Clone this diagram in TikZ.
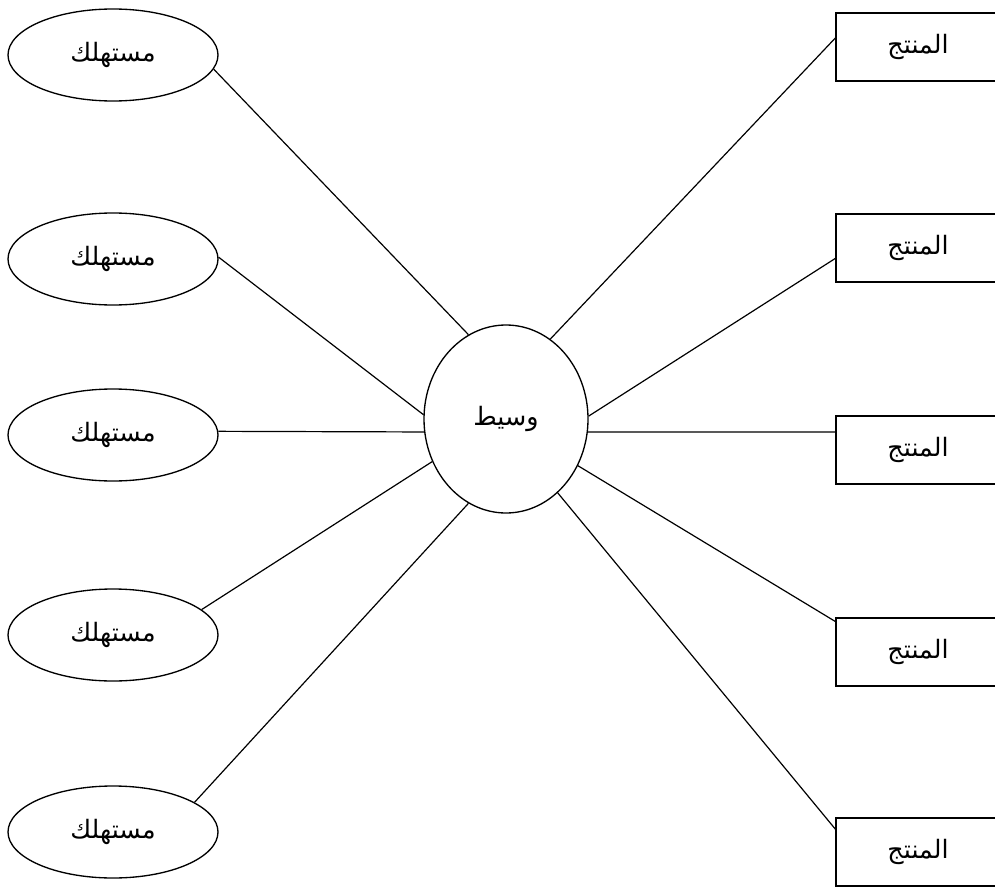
\documentclass[tikz,border=0pt]{standalone}
\usepackage{fontspec}
\usetikzlibrary{shapes.geometric,calc}
\TeXXeTstate=1
\newfontfamily\arabicfont[Script=Arabic]{DejaVu Sans}
\newcommand{\artext}[1]{{\arabicfont\fontsize{19}{22}\selectfont\beginR #1\endR}}
\begin{document}
\begin{tikzpicture}[x=0.75pt,y=-0.75pt,line width=1pt,
  consumer/.style={draw,ellipse,minimum width=157.5pt,minimum height=69pt,inner sep=0pt},
  broker/.style={draw,ellipse,minimum width=123pt,minimum height=141pt,inner sep=0pt},
  producer/.style={draw,rectangle,minimum width=123pt,minimum height=51pt,inner sep=0pt},
  link/.style={draw,line width=0.9pt}]
\useasboundingbox (0,0) rectangle (995,888);
\clip (0,0) rectangle (995,888);
\fill[white] (0,0) rectangle (995,888);

% consumers on the left
\node[consumer] (c1) at (113,55)  {\artext{مستهلك}};
\node[consumer] (c2) at (113,259) {\artext{مستهلك}};
\node[consumer] (c3) at (113,435) {\artext{مستهلك}};
\node[consumer] (c4) at (113,635) {\artext{مستهلك}};
\node[consumer] (c5) at (113,832) {\artext{مستهلك}};

% broker in the middle
\node[broker] (m) at (506,419) {\artext{وسيط}};

% producers on the right
\node[producer] (p1) at (918,47)  {\artext{المنتج}};
\node[producer] (p2) at (918,248) {\artext{المنتج}};
\node[producer] (p3) at (918,450) {\artext{المنتج}};
\node[producer] (p4) at (918,652) {\artext{المنتج}};
\node[producer] (p5) at (918,852) {\artext{المنتج}};

% consumer links
\path[link] (c1.-8)   -- (m.114);
\path[link] (c2.1)    -- (m.177);
\path[link] (c3.2)    -- (m.189);
\path[link] (c4.16)   -- (m.210);
\path[link] (c5.20)   -- (m.246);

% producer links
\path[link] (m.61)  -- ($(p1.north west)!0.37!(p1.south west)$);
\path[link] (m.2)   -- ($(p2.north west)!0.65!(p2.south west)$);
\path[link] (m.-9)  -- ($(p3.north west)!0.24!(p3.south west)$);
\path[link] (m.-33) -- ($(p4.north west)!0.06!(p4.south west)$);
\path[link] (m.-55) -- ($(p5.north west)!0.17!(p5.south west)$);
\end{tikzpicture}
\end{document}
